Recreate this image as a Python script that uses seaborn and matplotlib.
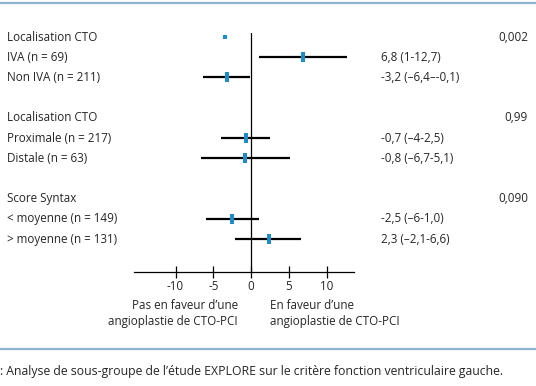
import matplotlib
matplotlib.use("Agg")
import matplotlib.pyplot as plt
import matplotlib.transforms as mtransforms
import pandas as pd
import seaborn as sns

# subgroup analysis data
headers = ["Localisation CTO", "Localisation CTO", "Score Syntax"]
p_values = ["0,002", "0,99", "0,090"]
header_marker = [-3.5]  # small mark drawn on first header row

subgroups = ["IVA (n = 69)", "Non IVA (n = 211)",
             "Proximale (n = 217)", "Distale (n = 63)",
             "< moyenne (n = 149)", "> moyenne (n = 131)"]
estimates = [6.8, -3.2, -0.7, -0.8, -2.5, 2.3]
ci_low = [1.0, -6.4, -4.0, -6.7, -6.0, -2.1]
ci_high = [12.7, -0.1, 2.5, 5.1, 1.0, 6.6]
est_labels = ["6,8 (1-12,7)", "-3,2 (\u20136,4\u2013-0,1)",
              "-0,7 (\u20134-2,5)", "-0,8 (\u20136,7-5,1)",
              "-2,5 (\u20136-1,0)", "2,3 (\u20132,1-6,6)"]
xticks = [-10, -5, 0, 5, 10]

W, H = 536, 386
FONT = "Open Sans"
FS = 8.4
FS_CAP = 8.8
TXT = "#262626"
BLUE = "#1b8dc9"
RULE = "#8db3ce"

sns.set_theme(style="white")
plt.rcParams["font.family"] = [FONT, "DejaVu Sans"]

# row layout: header at 4*g, subgroups at 4*g+1, 4*g+2
header_rows = [4 * g for g in range(len(headers))]
sub_rows = [4 * (i // 2) + 1 + i % 2 for i in range(len(subgroups))]
df = pd.DataFrame({"row": sub_rows, "est": estimates, "lo": ci_low,
                   "hi": ci_high, "label": subgroups, "txt": est_labels})

fig = plt.figure(figsize=(W / 100, H / 100), dpi=100)
px = lambda x: x / W
py = lambda y: 1 - y / H
ax = fig.add_axes([px(134), py(272), px(354) - px(134), py(33) - py(272)])

ax.hlines(df["row"], df["lo"], df["hi"], color="black", lw=1.6, zorder=2)
ax.axvline(0, color="black", lw=0.9, zorder=1)
rect = [(-0.42, -1), (0.42, -1), (0.42, 1), (-0.42, 1), (-0.42, -1)]
sns.scatterplot(data=df, x="est", y="row", marker=rect, s=52, color=BLUE,
                linewidth=0, ax=ax, zorder=3)
sns.scatterplot(x=header_marker, y=[header_rows[0]], marker="s", s=7,
                color=BLUE, linewidth=0, ax=ax, zorder=3)

ax.set_xlim(-15.5, 13.6)
ax.set_ylim(11.63, -0.2)
ax.set_xticks(xticks)
ax.set_xticklabels([str(t) for t in xticks], fontsize=FS, color=TXT)
ax.set_yticks([])
ax.set_xlabel("")
ax.set_ylabel("")
for s in ["top", "left", "right"]:
    ax.spines[s].set_visible(False)
ax.spines["bottom"].set_color("black")
ax.spines["bottom"].set_linewidth(0.9)
ax.tick_params(axis="x", direction="inout", length=8, width=0.9,
               color="black", pad=2, bottom=True)

tr = mtransforms.blended_transform_factory(fig.transFigure, ax.transData)
for r, h, p in zip(header_rows, headers, p_values):
    fig.text(px(7), r, h, transform=tr, fontsize=FS, color=TXT,
             va="center", ha="left")
    fig.text(px(528), r, p, transform=tr, fontsize=FS, color=TXT,
             va="center", ha="right")
for _, d in df.iterrows():
    fig.text(px(7), d["row"], d["label"], transform=tr, fontsize=FS,
             color=TXT, va="center", ha="left")
    fig.text(px(381), d["row"], d["txt"], transform=tr, fontsize=FS,
             color=TXT, va="center", ha="left")

fig.text(px(238), py(299), "Pas en faveur d\u2019une\nangioplastie de CTO-PCI",
         fontsize=FS, color=TXT, ha="right", va="top", multialignment="right",
         linespacing=1.3)
fig.text(px(270), py(299), "En faveur d\u2019une\nangioplastie de CTO-PCI",
         fontsize=FS, color=TXT, ha="left", va="top", multialignment="left",
         linespacing=1.3)

# blue rules and caption
fig.add_artist(plt.Line2D([0, 1], [py(3), py(3)], color=RULE, lw=1.6))
fig.add_artist(plt.Line2D([0, 1], [py(349), py(349)], color=RULE, lw=1.6))
fig.text(px(0), py(372), ": Analyse de sous-groupe de l\u2019\u00e9tude EXPLORE sur le crit\u00e8re fonction ventriculaire gauche.",
         fontsize=FS_CAP, color=TXT, ha="left", va="center")

fig.savefig("out.png", dpi=100)
